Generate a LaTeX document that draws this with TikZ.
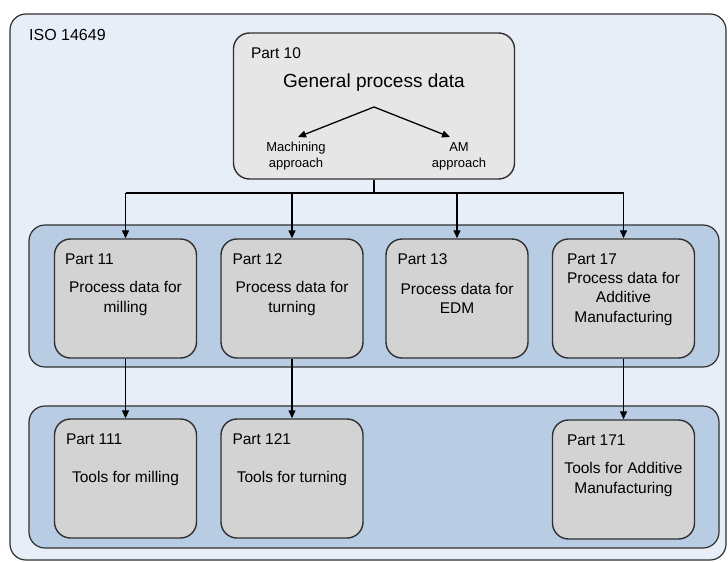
\documentclass[tikz,border=0pt]{standalone}
\usepackage{fontspec}
\setmainfont{Liberation Sans}
\usetikzlibrary{arrows.meta,positioning}
\definecolor{isofill}{HTML}{E8EEF7}
\definecolor{rowfill}{HTML}{B8CCE4}
\definecolor{partfill}{HTML}{D3D3D3}
\definecolor{genfill}{HTML}{E6E6E6}
\definecolor{edge}{HTML}{303030}

\begin{document}
\begin{tikzpicture}[x=1pt,y=-1pt,
    container/.style={draw=edge,line width=1.2pt,rounded corners=16pt},
    part/.style={draw=edge,fill=partfill,line width=1.4pt,rounded corners=16pt,
        minimum width=142pt,minimum height=119pt,align=center,inner sep=0pt,
        font=\fontsize{15.5}{19.5}\selectfont},
    partno/.style={inner sep=0pt,font=\fontsize{15.5}{18}\selectfont},
    conn/.style={line width=1.3pt,draw=black},
    arr/.style={conn,-{Triangle[length=8pt,width=7pt]}}]

    \useasboundingbox (0,0) rectangle (728,562);

    % Containers
    \draw[container,fill=isofill] (10,14) rectangle (726,560);
    \draw[container,fill=rowfill] (29,225) rectangle (719,367);
    \draw[container,fill=rowfill] (29,406) rectangle (719,548);
    \node[partno,anchor=west,font=\fontsize{16}{18}\selectfont] (iso) at (29,35) {ISO 14649};

    % Part 10
    \node[part,fill=genfill,minimum width=281pt,minimum height=146pt] (p10) at (374,106) {};
    \node[partno,below right=15pt and 18pt of p10.north west] (p10no) {Part 10};
    \node[inner sep=0pt,font=\fontsize{19}{22}\selectfont] (gpd) at (374,83) {General process data};
    \node[inner sep=0pt,align=center,font=\fontsize{13}{16}\selectfont] (mach) at (296,156) {Machining\\approach};
    \node[inner sep=0pt,align=center,font=\fontsize{13}{16}\selectfont] (am) at (459,156) {AM\\approach};
    \coordinate (split) at (374,107);
    \coordinate (tipmach) at (298,137);
    \coordinate (tipam) at (450,137);
    \draw[arr] (split) -- (tipmach);
    \draw[arr] (split) -- (tipam);

    % Process data parts
    \node[part] (p11) at (125.5,298.5) {Process data for\\milling};
    \node[part] (p12) at (292,298.5) {Process data for\\turning};
    \node[part] (p13) at (457,298.5) {Process data for\\EDM};
    \node[part] (p17) at (623.5,298.5) {Process data for\\Additive\\Manufacturing};

    % Tool parts
    \node[part] (p111) at (125.5,478.5) {Tools for milling};
    \node[part] (p121) at (292,478.5) {Tools for turning};
    \node[part] (p171) at (623.5,479.5) {Tools for Additive\\Manufacturing};

    \foreach \p/\n/\dx in {p11/11/11,p12/12/12,p13/13/12,p17/17/15,p111/111/12,p121/121/12,p171/171/15}
        \node[partno,below right=15pt and \dx pt of \p.north west] (\p no) {Part \n};

    % Connectors
    \coordinate (bus) at (374,193);
    \draw[conn] (p10.south) -- (bus);
    \draw[conn] (p11.north |- bus) -- (p17.north |- bus);
    \foreach \p in {p11,p12,p13,p17}
        \draw[arr] (\p.north |- bus) -- (\p.north);
    \draw[arr] (p11.south) -- (p111.north);
    \draw[arr] (p12.south) -- (p121.north);
    \draw[arr] (p17.south) -- (p171.north);

\end{tikzpicture}
\end{document}
